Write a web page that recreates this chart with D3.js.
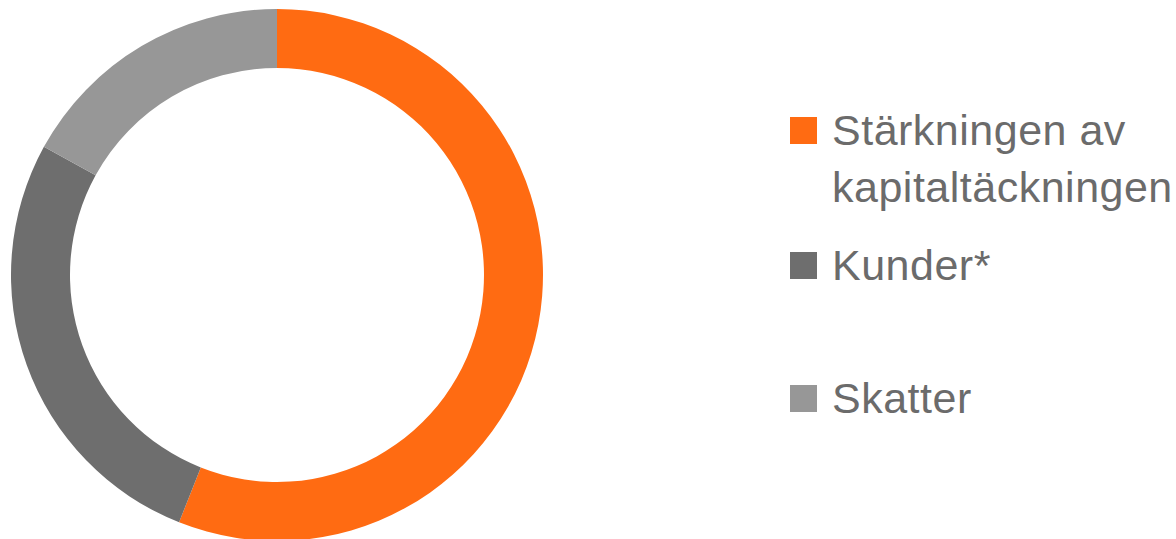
<!DOCTYPE html>
<html>
<head>
<meta charset="utf-8">
<script src="https://cdn.jsdelivr.net/npm/d3@7"></script>
<style>
  html, body { margin: 0; padding: 0; background: #fff; }
  #chart-container { width: 1176px; height: 539px; }
  text { font-family: "Liberation Sans", Arial, sans-serif; fill: #6b6b6b; letter-spacing: 0.5px; }
</style>
</head>
<body>
<div id="chart-container"></div>
<script>
// slice values (percent)
let categories = ["Stärkningen av kapitaltäckningen", "Kunder*", "Skatter"],
    labelLines = [["Stärkningen av", "kapitaltäckningen"], ["Kunder*"], ["Skatter"]],
    values = [56, 27, 17],
    colors = ["#ff6b12", "#6e6e6e", "#979797"];

let containerId = 'chart-container',
    width = 1176, height = 539,
    svg = d3.select(`#${containerId}`).append("svg").attr("width", width).attr("height", height),
    cx = 277, cy = 275,
    outerR = 266, innerR = 207;

let color = d3.scaleOrdinal().domain(categories).range(colors);

let pie = d3.pie().sort(null).value(d => d.value),
    arc = d3.arc().innerRadius(innerR).outerRadius(outerR);

let data = categories.map((c, i) => ({ name: c, value: values[i] }));

svg.append("g")
    .attr("transform", `translate(${cx},${cy})`)
    .selectAll("path")
    .data(pie(data))
    .join("path")
    .attr("fill", d => color(d.data.name))
    .attr("d", arc);

// legend
let legendX = 790, box = 27, fontSize = 43, lineH = 57,
    baselines = [145, 280, 413];

let legend = svg.append("g").attr("class", "legend");

data.forEach(function (d, i) {
    let g = legend.append("g").attr("transform", `translate(${legendX},${baselines[i]})`);

    g.append("rect")
        .attr("x", 0)
        .attr("y", -box - 1)
        .attr("width", box)
        .attr("height", box)
        .attr("fill", color(d.name));

    g.append("text")
        .attr("x", box + 15)
        .attr("y", 0)
        .style("font-size", fontSize + "px")
        .selectAll("tspan")
        .data(labelLines[i])
        .join("tspan")
        .attr("x", box + 15)
        .attr("dy", (l, j) => j === 0 ? 0 : lineH)
        .text(l => l);
});
</script>
</body>
</html>
